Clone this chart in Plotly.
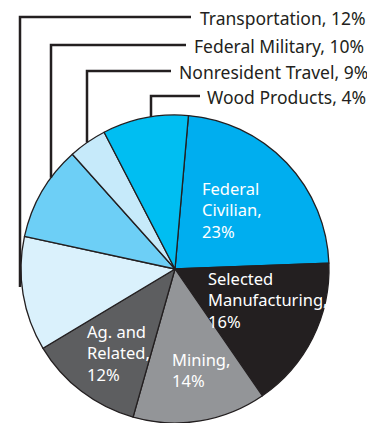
import plotly.graph_objects as go
import math

W, H = 367, 423

# Slices, clockwise from Federal Civilian
slice_labels = ["Federal Civilian", "Selected Manufacturing", "Mining", "Ag. and Related",
                "Transportation", "Federal Military", "Wood Products", "Nonresident Travel"]
slice_values = [23, 16, 14, 12, 12, 10, 4, 9]
slice_colors = ["#00AEEF", "#231F20", "#939598", "#5D5E60",
                "#DAF1FC", "#6DCFF6", "#C6EAFA", "#00BEF2"]

# Inside labels
inside_text = ["Federal<br>Civilian,<br>23%", "Selected<br>Manufacturing,<br>16%",
               "Mining,<br>14%", "Ag. and<br>Related,<br>12%"]

# Callout labels (top)
callout_text = ["Transportation, 12%", "Federal Military, 10%",
                "Nonresident Travel, 9%", "Wood Products, 4%"]

# Pie geometry in pixels
cx, cy, r = 175, 269, 154

def px(x):
    return x / W

def py(y):
    return 1 - y / H

fig = go.Figure()
fig.add_trace(go.Pie(
    labels=slice_labels, values=slice_values, sort=False, direction="clockwise",
    rotation=5, textinfo="none", hoverinfo="label+percent",
    marker=dict(colors=slice_colors, line=dict(color="#231F20", width=1.3)),
    domain=dict(x=[px(cx - r), px(cx + r)], y=[py(cy + r), py(cy - r)]),
    showlegend=False,
))

FONT = "Noto Sans"
FS_IN = 16.5
FS_OUT = 17.5

# inside labels: (left x, block centre y)
inside_pos = [(201, 210), (207, 300), (171, 370), (86, 353)]
anns = []
for t, (x, y) in zip(inside_text, inside_pos):
    anns.append(dict(text=t, x=px(x), y=py(y), xref="paper", yref="paper",
                     xanchor="left", yanchor="middle", align="left", showarrow=False,
                     borderpad=0,
                     font=dict(family=FONT, size=FS_IN, color="white")))

# callouts: (vertical line x, horizontal y, horizontal end x, text start x)
callout_lines = [(20, 17, 191, 199), (51, 45, 186, 193), (87, 71, 171, 178), (151, 96, 200, 206)]
shapes = []
for t, (lx, hy, hx, tx) in zip(callout_text, callout_lines):
    dx = lx - cx
    if abs(dx) < r:
        end_y = cy - math.sqrt(r * r - dx * dx)
    else:
        end_y = cy + 18
    shapes.append(dict(type="path", xref="paper", yref="paper",
                       path=f"M {px(hx)} {py(hy)} L {px(lx)} {py(hy)} L {px(lx)} {py(end_y)}",
                       line=dict(color="#231F20", width=2.5)))
    anns.append(dict(text=t, x=px(tx), y=py(hy + 1), xref="paper", yref="paper",
                     xanchor="left", yanchor="middle", showarrow=False, borderpad=0,
                     font=dict(family=FONT, size=FS_OUT, color="#231F20")))

fig.update_layout(width=W, height=H, margin=dict(l=0, r=0, t=0, b=0),
                  paper_bgcolor="white", plot_bgcolor="white",
                  annotations=anns, shapes=shapes)

fig.write_html("out.html")
